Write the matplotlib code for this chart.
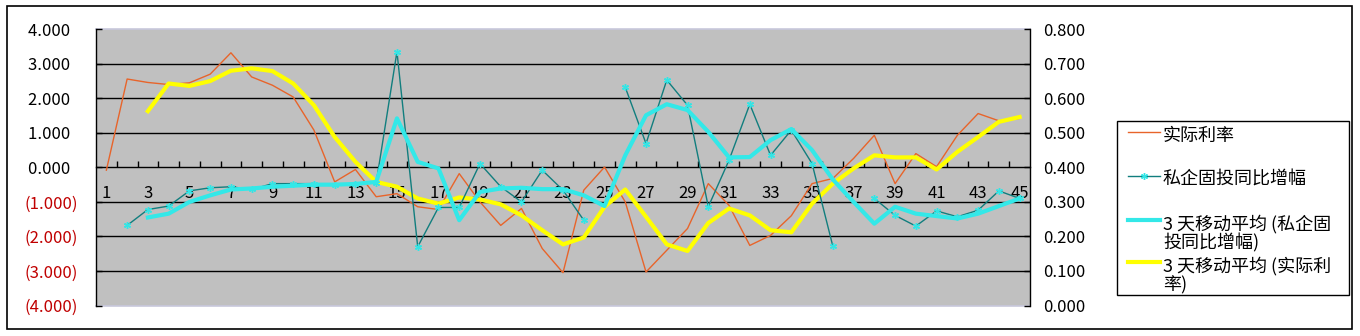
import numpy as np
import matplotlib
matplotlib.use("Agg")
from matplotlib import pyplot as plt
from matplotlib.patches import Rectangle
from matplotlib.lines import Line2D

plt.rcParams['font.family'] = ['Noto Sans CJK SC', 'DejaVu Sans']

nan = np.nan

# categories 1..45
cats = list(range(1, 46))

# 实际利率 (left axis)
real_rate = [-0.08, 2.56, 2.46, 2.40, 2.45, 2.70, 3.32, 2.62, 2.38, 2.04,
             1.08, -0.42, -0.06, -0.85, -0.76, -1.14, -1.22, -0.18, -1.00, -1.68,
             -1.19, -2.35, -3.05, -0.66, 0.01, -1.00, -3.03, -2.40, -1.77, -0.47,
             -1.10, -2.26, -1.97, -1.40, -0.47, -0.32, 0.26, 0.93, -0.47, 0.40,
             0.02, 0.93, 1.56, 1.35, 1.42]

# 私企固投同比增幅 (right axis)
invest = [nan, 0.232, 0.278, 0.288, 0.332, 0.341, 0.344, 0.336, 0.353, 0.353,
          0.353, 0.350, 0.353, 0.355, 0.735, 0.170, 0.284, 0.284, 0.411, 0.344,
          0.300, 0.392, 0.334, 0.247, nan, 0.632, 0.469, 0.653, 0.580, 0.286,
          0.421, 0.583, 0.435, 0.508, 0.411, 0.172, nan, 0.310, 0.261, 0.230,
          0.274, 0.257, 0.276, 0.332, 0.310]

# 3 天移动平均 (私企固投同比增幅) (right axis)
invest_ma = [nan, nan, 0.255, 0.266, 0.300, 0.319, 0.336, 0.339, 0.344, 0.347,
             0.350, 0.350, 0.352, 0.358, 0.542, 0.416, 0.397, 0.247, 0.329, 0.339,
             0.341, 0.337, 0.337, 0.319, 0.288, 0.435, 0.551, 0.583, 0.566, 0.503,
             0.429, 0.430, 0.479, 0.511, 0.450, 0.365, 0.300, 0.237, 0.286, 0.266,
             0.259, 0.252, 0.266, 0.288, 0.310]

# 3 天移动平均 (实际利率) (left axis)
rate_ma = [nan, nan, 1.63, 2.43, 2.36, 2.50, 2.80, 2.87, 2.79, 2.43,
           1.80, 0.88, 0.16, -0.42, -0.56, -0.90, -1.05, -0.87, -0.93, -1.07,
           -1.39, -1.82, -2.23, -2.03, -1.14, -0.64, -1.43, -2.23, -2.42, -1.61,
           -1.19, -1.39, -1.82, -1.88, -1.05, -0.47, -0.03, 0.35, 0.29, 0.29,
           -0.06, 0.45, 0.88, 1.32, 1.46]

labels = ["实际利率", "私企固投同比增幅",
          "3 天移动平均 (私企固\n投同比增幅)", "3 天移动平均 (实际利\n率)"]

W, H = 1360, 336
fig = plt.figure(figsize=(W / 100, H / 100), dpi=100)


def fx(px):
    return px / W


def fy(py):
    return 1 - py / H


fig.patches.append(Rectangle((fx(7), fy(329)), 1345 / W, 323 / H,
                             transform=fig.transFigure, fill=False,
                             edgecolor='black', linewidth=1.2))

ax = fig.add_axes([fx(96), fy(305.5), (1030 - 96) / W, (305.5 - 29.3) / H])
ax.set_facecolor('#C0C0C0')
ax.set_xlim(0.5, 45.5)
ax.set_ylim(-4, 4)

for v in [-3, -2, -1, 1, 2, 3]:
    ax.axhline(v, color='black', linewidth=1.0, zorder=1)
ax.axhline(4, color='#C8C8DC', linewidth=1.2, zorder=1, clip_on=False)
ax.axhline(-4, color='#C8C8DC', linewidth=1.2, zorder=1, clip_on=False)

ax2 = ax.twinx()
ax2.set_ylim(0, 0.8)

x = np.array(cats)
star = (6, 2, 0)
l1, = ax.plot(x, real_rate, color='#E8642A', linewidth=1.0, zorder=3)
l4, = ax.plot(x, rate_ma, color='#FFFF00', linewidth=3.0, zorder=4)
l2, = ax2.plot(x, invest, color='#117E7E', linewidth=1.0, marker=star,
               markersize=5, markeredgewidth=1.0, markeredgecolor='#33E5E5',
               zorder=3)
l3, = ax2.plot(x, invest_ma, color='#33E8E8', linewidth=3.0, zorder=4)

# axes styling
ax.spines['top'].set_visible(False)
ax2.spines['top'].set_visible(False)
ax2.spines['bottom'].set_visible(False)
ax.spines['bottom'].set_position(('data', 0))
ax.spines['bottom'].set_linewidth(1.0)
ax.spines['left'].set_linewidth(1.0)
ax2.spines['right'].set_linewidth(1.0)
ax.spines['right'].set_visible(False)
ax2.spines['left'].set_visible(False)

# x axis: tick marks between categories, labels on odd categories
ax.set_xticks(np.arange(1.5, 45, 1.0))
ax.set_xticklabels([])
ax.set_xticks(x, minor=True)
ax.set_xticklabels([str(c) if c % 2 == 1 else "" for c in cats], minor=True)
ax.tick_params(axis='x', which='major', direction='in', length=4, width=1)
ax.tick_params(axis='x', which='minor', length=0, pad=13, labelsize=12)

# left axis
lticks = np.arange(-4, 5, 1)
ax.set_yticks(lticks)
ax.set_yticklabels(["(%.3f)" % abs(v) if v < 0 else "%.3f  " % v for v in lticks])
for t, v in zip(ax.get_yticklabels(), lticks):
    t.set_color('#C00000' if v < 0 else 'black')
ax.tick_params(axis='y', direction='in', length=4, width=1, pad=13, labelsize=12)

# right axis
rticks = np.arange(0, 0.81, 0.1)
ax2.set_yticks(rticks)
ax2.set_yticklabels(["%.3f" % v for v in rticks])
ax2.tick_params(axis='y', direction='in', length=4, width=1, pad=9.5, labelsize=12)

# legend, laid out like the spreadsheet one
fig.patches.append(Rectangle((fx(1117), fy(295)), (1349 - 1117) / W, (295 - 121) / H,
                             transform=fig.transFigure, facecolor='white',
                             edgecolor='black', linewidth=1.0))
rows = [132, 176, 220, 262]
for h, lab, yy in zip([l1, l2, l3, l4], labels, rows):
    ln = Line2D([fx(1128), fx(1160)], [fy(yy), fy(yy)], transform=fig.transFigure,
                color=h.get_color(), linewidth=h.get_linewidth())
    fig.add_artist(ln)
    if h is l2:
        fig.add_artist(Line2D([fx(1144)], [fy(yy)], transform=fig.transFigure,
                              marker=star, markersize=5, markeredgewidth=1.0,
                              markeredgecolor='#33E5E5', linestyle='none'))
    fig.text(fx(1163), fy(yy - 5), lab, ha='left', va='top', fontsize=13,
             linespacing=1.0)

fig.savefig("out.png", dpi=100)
